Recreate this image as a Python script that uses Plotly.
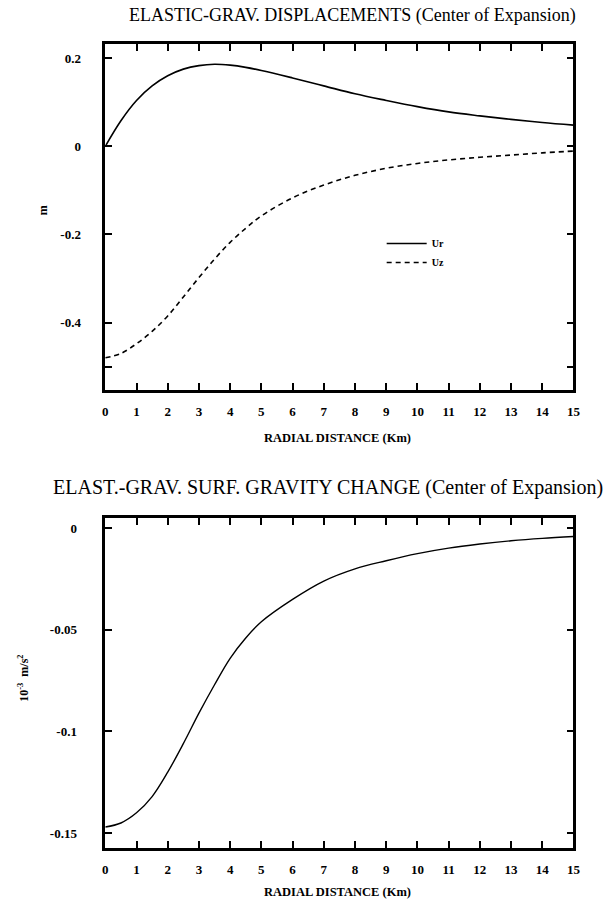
import plotly.graph_objects as go

# ---- data ----
dist_km = [0, 0.5, 1, 1.5, 2, 2.5, 3, 3.5, 4, 4.5, 5, 6, 7, 8, 9, 10, 11, 12, 13, 14, 15]
ur = [0.0, 0.058, 0.104, 0.137, 0.160, 0.175, 0.183, 0.186, 0.184, 0.179, 0.172, 0.155,
      0.137, 0.119, 0.104, 0.090, 0.078, 0.069, 0.061, 0.054, 0.048]
uz = [-0.480, -0.470, -0.448, -0.420, -0.385, -0.342, -0.298, -0.256, -0.218, -0.186, -0.158,
      -0.117, -0.088, -0.066, -0.050, -0.039, -0.031, -0.025, -0.020, -0.015, -0.011]
grav = [-0.147, -0.145, -0.140, -0.132, -0.120, -0.106, -0.091, -0.077, -0.064, -0.054, -0.046,
        -0.035, -0.026, -0.020, -0.016, -0.0125, -0.0098, -0.0078, -0.0062, -0.0050, -0.0041]

x_ticks = list(range(0, 16))
x_labels = [str(v) for v in x_ticks]
y1_ticks = [0.2, 0, -0.2, -0.4, -0.5]
y1_labels = ["0.2", "0", "-0.2", "-0.4", ""]
y2_ticks = [0, -0.05, -0.1, -0.15]
y2_labels = ["0", "-0.05", "-0.1", "-0.15"]

title1 = "ELASTIC-GRAV. DISPLACEMENTS (Center of Expansion)"
title2 = "ELAST.-GRAV. SURF. GRAVITY CHANGE (Center of Expansion)"
xlabel = "RADIAL DISTANCE (Km)"
ylabel1 = "m"
ylabel2 = "10<sup>-3</sup>  m/s<sup>2</sup>"

W, H = 609, 910
SERIF = "Liberation Serif"


def px(x):
    return x / W


def py(y):
    return 1 - y / H


def bold(lst):
    return ["<b>%s</b>" % s if s else "" for s in lst]


fig = go.Figure()
fig.add_trace(go.Scatter(x=dist_km, y=ur, mode="lines", name="<b>Ur</b>",
                         line=dict(color="black", width=1.6, shape="spline"),
                         xaxis="x", yaxis="y"))
fig.add_trace(go.Scatter(x=dist_km, y=uz, mode="lines", name="<b>Uz</b>",
                         line=dict(color="black", width=1.6, dash="5px,4px", shape="spline"),
                         xaxis="x", yaxis="y"))
fig.add_trace(go.Scatter(x=dist_km, y=grav, mode="lines", showlegend=False,
                         line=dict(color="black", width=1.4, shape="spline"),
                         xaxis="x2", yaxis="y2"))

axis_common = dict(showline=True, linecolor="black", linewidth=2.5, mirror="ticks",
                   ticks="inside", ticklen=7, tickwidth=2, tickcolor="black",
                   showgrid=False, zeroline=False,
                   tickfont=dict(family=SERIF, size=13, color="black"))

xdom = [px(104), px(580)]
fig.update_layout(
    width=W, height=H,
    margin=dict(l=0, r=0, t=0, b=0),
    paper_bgcolor="white", plot_bgcolor="white",
    xaxis=dict(domain=xdom, range=[0, 15], tickvals=x_ticks, ticktext=bold(x_labels),
               anchor="y", ticklabelstandoff=8, **axis_common),
    yaxis=dict(domain=[py(390), py(44)], range=[-0.553, 0.232], tickvals=y1_ticks,
               ticktext=bold(y1_labels), anchor="x", ticklabelstandoff=19, **axis_common),
    xaxis2=dict(domain=xdom, range=[0, 15], tickvals=x_ticks, ticktext=bold(x_labels),
                anchor="y2", ticklabelstandoff=8, **axis_common),
    yaxis2=dict(domain=[py(848), py(518)], range=[-0.1573, 0.005], tickvals=y2_ticks,
                ticktext=bold(y2_labels), anchor="x2", ticklabelstandoff=23, **axis_common),
    legend=dict(x=px(385), y=py(229), xanchor="left", yanchor="top",
                bgcolor="rgba(0,0,0,0)", font=dict(family=SERIF, size=10, color="black"),
                tracegroupgap=0, itemwidth=40),
    showlegend=True,
)

ann_font = dict(family=SERIF, color="black")


def label(text, x, y, size, angle=0):
    fig.add_annotation(text=text, x=px(x), y=py(y), xref="paper", yref="paper",
                       xanchor="center", yanchor="middle", showarrow=False,
                       textangle=angle, font=dict(size=size, **ann_font))


label(title1, 355, 15, 18)
label(title2, 330, 487, 20)
label("<b>" + xlabel + "</b>", 340, 438, 12.5)
label("<b>" + xlabel + "</b>", 340, 892, 12.5)
label("<b>" + ylabel1 + "</b>", 41, 210, 12, -90)
label("<b>" + ylabel2 + "</b>", 20, 678, 12, -90)

fig.write_html("out.html")
